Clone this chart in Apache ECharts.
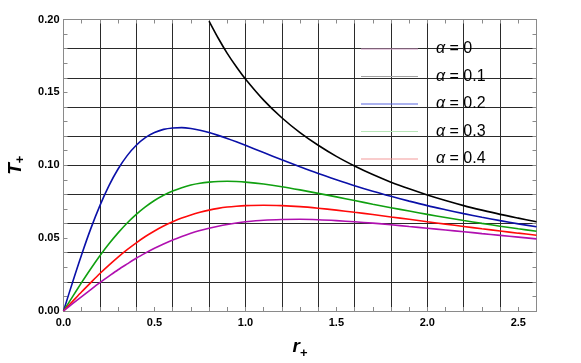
<!DOCTYPE html>
<html>
<head>
<meta charset="utf-8">
<script src="https://cdn.jsdelivr.net/npm/echarts@6/dist/echarts.min.js"></script>
<style>
html,body{margin:0;padding:0;background:#fff;}
#c{width:581px;height:363px;}
</style>
</head>
<body>
<div id="c"></div>
<script>
// r values (x axis)
var rValues = [0,0.05,0.1,0.15,0.2,0.25,0.3,0.35,0.4,0.45,0.5,0.55,0.6,0.65,0.7,0.75,0.8,0.85,0.9,0.95,1.0,1.1,1.2,1.3,1.4,1.5,1.6,1.7,1.8,1.9,2.0,2.1,2.2,2.3,2.4,2.5,2.6];
// alpha = 0 (starts at r = 0.8)
var rBlack = [0.8,0.85,0.9,0.95,1.0,1.1,1.2,1.3,1.4,1.5,1.6,1.7,1.8,1.9,2.0,2.1,2.2,2.3,2.4,2.5,2.6];
var tBlack = [0.1989,0.1873,0.1768,0.1676,0.1592,0.1447,0.1326,0.1224,0.1137,0.1061,0.0995,0.0936,0.0884,0.0838,0.0796,0.0758,0.0723,0.0692,0.0663,0.0637,0.0612];
var tBlue = [0,0.0198,0.0388,0.0565,0.0723,0.0860,0.0974,0.1066,0.1137,0.1189,0.1224,0.1246,0.1256,0.1258,0.1252,0.1240,0.1224,0.1205,0.1184,0.1161,0.1137,0.1087,0.1038,0.0990,0.0944,0.0901,0.0860,0.0822,0.0787,0.0754,0.0723,0.0695,0.0668,0.0643,0.0620,0.0598,0.0578];
var tGreen = [0,0.0099,0.0196,0.0290,0.0379,0.0461,0.0536,0.0604,0.0663,0.0714,0.0758,0.0794,0.0823,0.0846,0.0864,0.0876,0.0884,0.0889,0.0890,0.0888,0.0884,0.0871,0.0853,0.0831,0.0807,0.0783,0.0758,0.0733,0.0709,0.0686,0.0663,0.0642,0.0621,0.0601,0.0582,0.0564,0.0547];
var tRed = [0,0.0066,0.0132,0.0195,0.0257,0.0315,0.0370,0.0421,0.0468,0.0511,0.0549,0.0583,0.0612,0.0638,0.0659,0.0677,0.0692,0.0704,0.0713,0.0719,0.0723,0.0726,0.0723,0.0716,0.0705,0.0692,0.0677,0.0662,0.0645,0.0629,0.0612,0.0596,0.0580,0.0564,0.0549,0.0534,0.0520];
var tPurple = [0,0.0050,0.0099,0.0147,0.0194,0.0239,0.0283,0.0323,0.0362,0.0397,0.0430,0.0460,0.0487,0.0511,0.0533,0.0552,0.0568,0.0582,0.0594,0.0604,0.0612,0.0623,0.0628,0.0629,0.0626,0.0620,0.0612,0.0603,0.0592,0.0580,0.0568,0.0556,0.0544,0.0531,0.0519,0.0507,0.0495];
var legendNames = ['α = 0','α = 0.1','α = 0.2','α = 0.3','α = 0.4'];
var xTickLabels = ['0.0','0.5','1.0','1.5','2.0','2.5'];
var yTickLabels = ['0.00','0.05','0.10','0.15','0.20'];

function pairs(xs, ys){ return xs.map(function(x,i){ return [x, ys[i]]; }); }

var chart = echarts.init(document.getElementById('c'), null, {renderer:'canvas'});
var FONT = 'Liberation Sans, Arial, sans-serif';
var gridCol = '#2a2a2a';
var frameCol = '#8a8a8a';

function mkSeries(name, data, color){
  return {name:name, type:'line', data:data, smooth:0.3, showSymbol:false, symbol:'none',
    xAxisIndex:0, yAxisIndex:0, clip:true,
    lineStyle:{color:color, width:1.6}, itemStyle:{color:color}, z:5};
}

var legendColors = ['#cf9ac4','#a0a0a0','#5866e0','#b8e6b8','#f39a9a'];

chart.setOption({
  backgroundColor:'#fff',
  animation:false,
  grid:{left:63.5, right:44.5, top:19.5, bottom:52, containLabel:false, outerBoundsMode:'none'},
  legend:{
    orient:'vertical', left:356, top:34, itemGap:7.5,
    icon:'rect', itemWidth:57, itemHeight:1,
    data: legendNames.map(function(n,i){ return {name:n, icon:'rect', itemStyle:{color:legendColors[i]}}; }),
    formatter:function(n){ return '{a|α}' + n.slice(1); },
    textStyle:{fontFamily:FONT, fontSize:16, color:'#000', lineHeight:20, padding:[0,0,0,13],
      rich:{a:{fontFamily:FONT, fontSize:16, fontStyle:'italic', color:'#000', lineHeight:20}}}
  },
  xAxis:[
    {type:'value', min:0, max:2.6, interval:0.5, position:'bottom',
     axisLine:{show:true, onZero:false, lineStyle:{color:frameCol, width:1}},
     axisTick:{show:false}, splitLine:{show:false},
     axisLabel:{showMaxLabel:false, margin:6, fontFamily:FONT, fontWeight:'bold', fontSize:11, color:'#000',
       formatter:function(v){ return xTickLabels[Math.round(v/0.5)] || ''; }},
     name:'{t|r}{s|+}', nameLocation:'middle', nameGap:23,
     nameTextStyle:{rich:{t:{fontFamily:FONT, fontSize:19, fontWeight:'bold', fontStyle:'italic', color:'#000', lineHeight:22, verticalAlign:'bottom'},
                          s:{fontFamily:FONT, fontSize:13, fontWeight:'bold', color:'#000', lineHeight:22, verticalAlign:'bottom', padding:[0,0,-4,0]}}}},
    {type:'value', min:0, max:2.6, interval:0.2, position:'bottom',
     axisLine:{show:false}, axisTick:{show:false}, axisLabel:{show:false},
     splitLine:{show:true, lineStyle:{color:gridCol, width:1}}},
    {type:'value', min:0, max:2.6, interval:0.1, position:'bottom',
     axisLine:{show:false}, axisTick:{show:true, inside:true, length:4, lineStyle:{color:frameCol}}, axisLabel:{show:false}, splitLine:{show:false}},
    {type:'value', min:0, max:2.6, interval:0.1, position:'top',
     axisLine:{show:true, onZero:false, lineStyle:{color:frameCol}}, axisTick:{show:true, inside:true, length:4, lineStyle:{color:frameCol}}, axisLabel:{show:false}, splitLine:{show:false}}
  ],
  yAxis:[
    {type:'value', min:0, max:0.2, interval:0.05, position:'left',
     axisLine:{show:true, onZero:false, lineStyle:{color:frameCol, width:1}},
     axisTick:{show:false}, splitLine:{show:false},
     axisLabel:{margin:4, fontFamily:FONT, fontWeight:'bold', fontSize:11, color:'#000',
       formatter:function(v){ return yTickLabels[Math.round(v/0.05)] || ''; }},
     name:'{t|T}{s|+}', nameLocation:'middle', nameGap:35, nameRotate:90,
     nameTextStyle:{rich:{t:{fontFamily:FONT, fontSize:19, fontWeight:'bold', fontStyle:'italic', color:'#000', lineHeight:22, verticalAlign:'bottom'},
                          s:{fontFamily:FONT, fontSize:13, fontWeight:'bold', color:'#000', lineHeight:22, verticalAlign:'bottom', padding:[0,0,-2,0]}}}},
    {type:'value', min:0, max:0.2, interval:0.02, position:'left',
     axisLine:{show:false}, axisTick:{show:false}, axisLabel:{show:false},
     splitLine:{show:true, lineStyle:{color:gridCol, width:1}}},
    {type:'value', min:0, max:0.2, interval:0.01, position:'left',
     axisLine:{show:false}, axisTick:{show:true, inside:true, length:4, lineStyle:{color:frameCol}}, axisLabel:{show:false}, splitLine:{show:false}},
    {type:'value', min:0, max:0.2, interval:0.01, position:'right',
     axisLine:{show:true, onZero:false, lineStyle:{color:frameCol}}, axisTick:{show:true, inside:true, length:4, lineStyle:{color:frameCol}}, axisLabel:{show:false}, splitLine:{show:false}}
  ],
  series:[
    mkSeries(legendNames[0], pairs(rBlack, tBlack), '#000000'),
    mkSeries(legendNames[1], pairs(rValues, tBlue), '#0a10a8'),
    mkSeries(legendNames[2], pairs(rValues, tGreen), '#10a010'),
    mkSeries(legendNames[3], pairs(rValues, tRed), '#ff0a0a'),
    mkSeries(legendNames[4], pairs(rValues, tPurple), '#b010b0')
  ]
});
</script>
</body>
</html>
